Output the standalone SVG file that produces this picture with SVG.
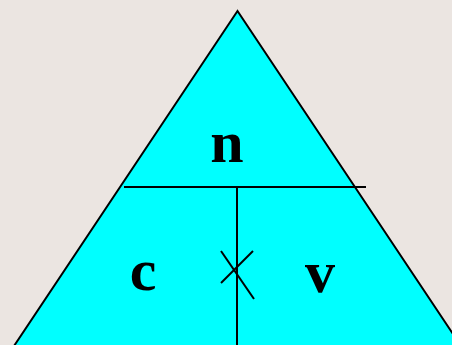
<svg xmlns="http://www.w3.org/2000/svg" width="452" height="345" viewBox="0 0 452 345">
<style>
.ln{stroke:#000;stroke-width:2;fill:none}
.t{font-family:"Liberation Serif",serif;font-weight:bold;font-size:60px;text-anchor:middle;fill:#000}
</style>
<rect width="452" height="345" fill="#ebe5e1"/>
<g id="triangle">
<polygon points="237.5,11 14,346 461,346" fill="#00ffff" stroke="#000" stroke-width="2"/>
</g>
<g id="connectors">
<line class="ln" x1="124" y1="187" x2="366" y2="187"/>
<line class="ln" x1="237" y1="187" x2="237" y2="345"/>
<line class="ln" x1="221" y1="251" x2="254" y2="299"/>
<line class="ln" x1="253" y1="251" x2="221" y2="283"/>
</g>
<g id="n"><text class="t" x="227" y="162">n</text></g>
<g id="c"><text class="t" x="143" y="290">c</text></g>
<g id="v"><text class="t" x="320" y="292">v</text></g>
</svg>
